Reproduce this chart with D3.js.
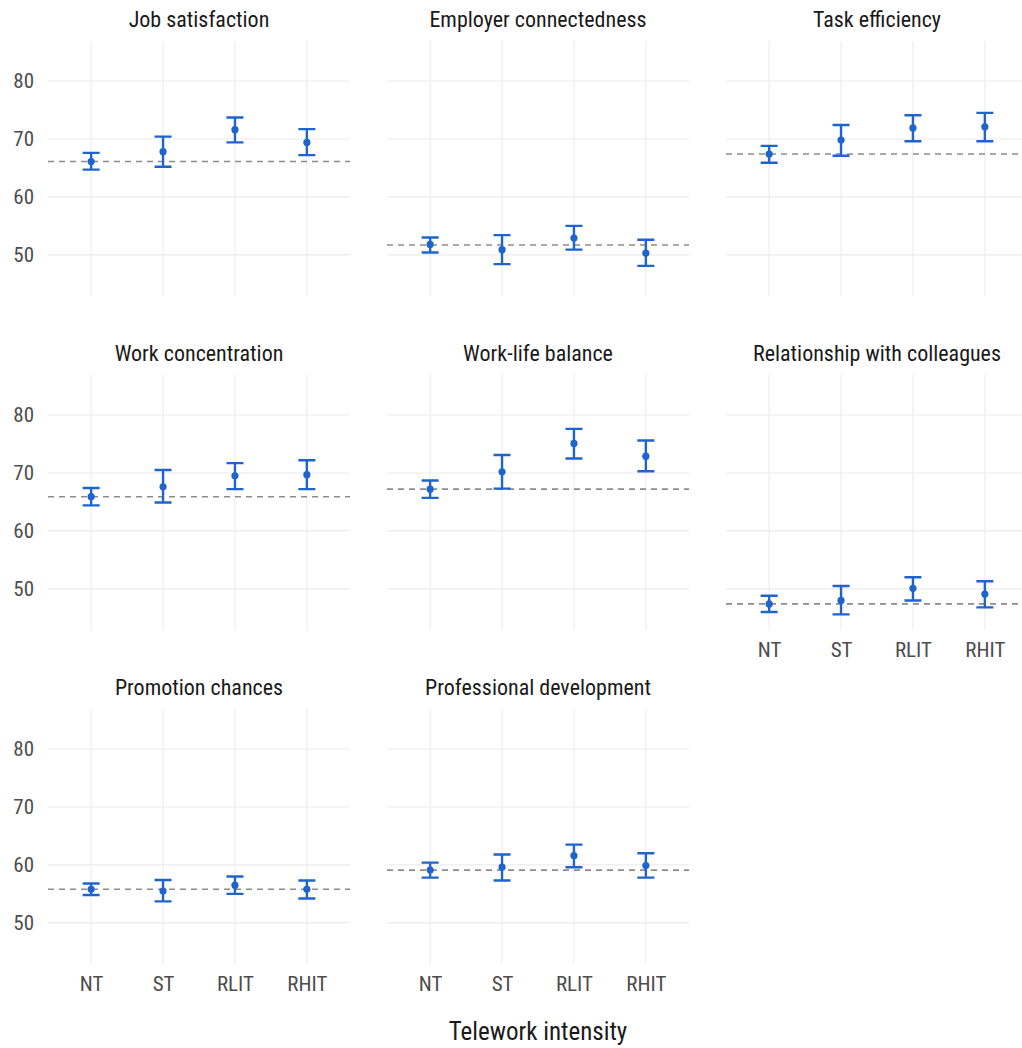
<!DOCTYPE html>
<html>
<head>
<meta charset="utf-8">
<script src="https://cdn.jsdelivr.net/npm/d3@7"></script>
<style>
  body { margin: 0; background: #fff; }
  svg { font-family: "Roboto Condensed", Roboto, sans-serif; }
</style>
</head>
<body>
<script>
var groups = ['NT', 'ST', 'RLIT', 'RHIT']

var outcomes = ['Job satisfaction', 'Employer connectedness', 'Task efficiency',
  'Work concentration', 'Work-life balance', 'Relationship with colleagues',
  'Promotion chances', 'Professional development']

// means per outcome, in the order of groups
var means = [
  [66.1, 67.8, 71.6, 69.4],
  [51.8, 50.9, 52.9, 50.3],
  [67.4, 69.8, 71.9, 72.1],
  [65.9, 67.6, 69.5, 69.7],
  [67.2, 70.2, 75.1, 72.9],
  [47.4, 48.0, 50.1, 49.1],
  [55.8, 55.5, 56.5, 55.8],
  [59.1, 59.6, 61.6, 59.9]
]
var lower = [
  [64.7, 65.2, 69.4, 67.2],
  [50.4, 48.4, 50.9, 48.1],
  [65.9, 67.1, 69.6, 69.6],
  [64.4, 64.9, 67.2, 67.2],
  [65.7, 67.3, 72.5, 70.3],
  [46.0, 45.6, 48.0, 46.8],
  [54.8, 53.7, 55.0, 54.2],
  [57.8, 57.3, 59.6, 57.8]
]
var upper = [
  [67.6, 70.4, 73.7, 71.7],
  [53.0, 53.4, 55.0, 52.6],
  [68.8, 72.4, 74.1, 74.5],
  [67.4, 70.5, 71.7, 72.2],
  [68.7, 73.1, 77.6, 75.6],
  [48.8, 50.5, 52.0, 51.3],
  [56.8, 57.4, 58.0, 57.3],
  [60.4, 61.8, 63.5, 62.0]
]
// reference line = no-telework mean
var reference = [66.1, 51.7, 67.4, 65.9, 67.2, 47.4, 55.8, 59.1]

var yTicks = [50, 60, 70, 80]

var width = 1022, height = 1048
var panelW = 302, panelH = 255
var colX = [48, 387, 726]
var rowY = [41, 375, 709]

var x = d3.scalePoint().domain(groups).range([0, panelW]).padding(0.6)
var y = d3.scaleLinear().domain([42.9, 86.9]).range([panelH, 0])

var blue = '#1f63cc'

var svg = d3.select('body').append('svg').attr('width', width).attr('height', height)

outcomes.forEach(function (name, k) {
  var col = k % 3, row = Math.floor(k / 3)
  var g = svg.append('g').attr('transform', `translate(${colX[col]},${rowY[row]})`)

  // grid
  g.selectAll('.hg').data(yTicks).join('line')
    .attr('x1', 0).attr('x2', panelW)
    .attr('y1', d => y(d)).attr('y2', d => y(d))
    .attr('stroke', '#ebebeb').attr('stroke-width', 1.1)
  g.selectAll('.vg').data(groups).join('line')
    .attr('x1', d => x(d)).attr('x2', d => x(d))
    .attr('y1', 0).attr('y2', panelH)
    .attr('stroke', '#ebebeb').attr('stroke-width', 1.1)

  // strip title
  g.append('text').attr('x', panelW / 2).attr('y', -14)
    .attr('text-anchor', 'middle').attr('font-size', 22).attr('fill', '#1a1a1a')
    .text(name)

  // reference line
  g.append('line')
    .attr('x1', 0).attr('x2', panelW)
    .attr('y1', y(reference[k])).attr('y2', y(reference[k]))
    .attr('stroke', '#8c8c8c').attr('stroke-width', 1.6).attr('stroke-dasharray', '6,5')

  var pts = groups.map((gr, i) => ({ g: gr, m: means[k][i], lo: lower[k][i], hi: upper[k][i] }))
  var cap = 8.5

  g.selectAll('.eb').data(pts).join('path')
    .attr('d', d => `M${x(d.g) - cap},${y(d.hi)}H${x(d.g) + cap}M${x(d.g)},${y(d.hi)}V${y(d.lo)}M${x(d.g) - cap},${y(d.lo)}H${x(d.g) + cap}`)
    .attr('fill', 'none').attr('stroke', blue).attr('stroke-width', 2.4)
  g.selectAll('.pt').data(pts).join('circle')
    .attr('cx', d => x(d.g)).attr('cy', d => y(d.m)).attr('r', 3.6)
    .attr('fill', blue)

  // y axis labels on first column
  if (col === 0) {
    var ya = g.append('g').call(d3.axisLeft(y).tickValues(yTicks).tickSize(0).tickPadding(14))
      .attr('font-family', null).attr('font-size', null)
    ya.select('.domain').remove()
    ya.selectAll('text').attr('font-size', 21).attr('fill', '#4d4d4d')
  }
  // x axis labels on bottom panel of each column
  if (k >= 5) {
    var xa = g.append('g').attr('transform', `translate(0,${panelH})`)
      .call(d3.axisBottom(x).tickSize(0).tickPadding(12))
      .attr('font-family', null).attr('font-size', null)
    xa.select('.domain').remove()
    xa.selectAll('text').attr('font-size', 21).attr('fill', '#4d4d4d')
  }
})

svg.append('text').attr('x', colX[0] + (colX[2] + panelW - colX[0]) / 2).attr('y', 1040)
  .attr('text-anchor', 'middle').attr('font-size', 25).attr('fill', '#1a1a1a')
  .text('Telework intensity')
</script>
</body>
</html>
